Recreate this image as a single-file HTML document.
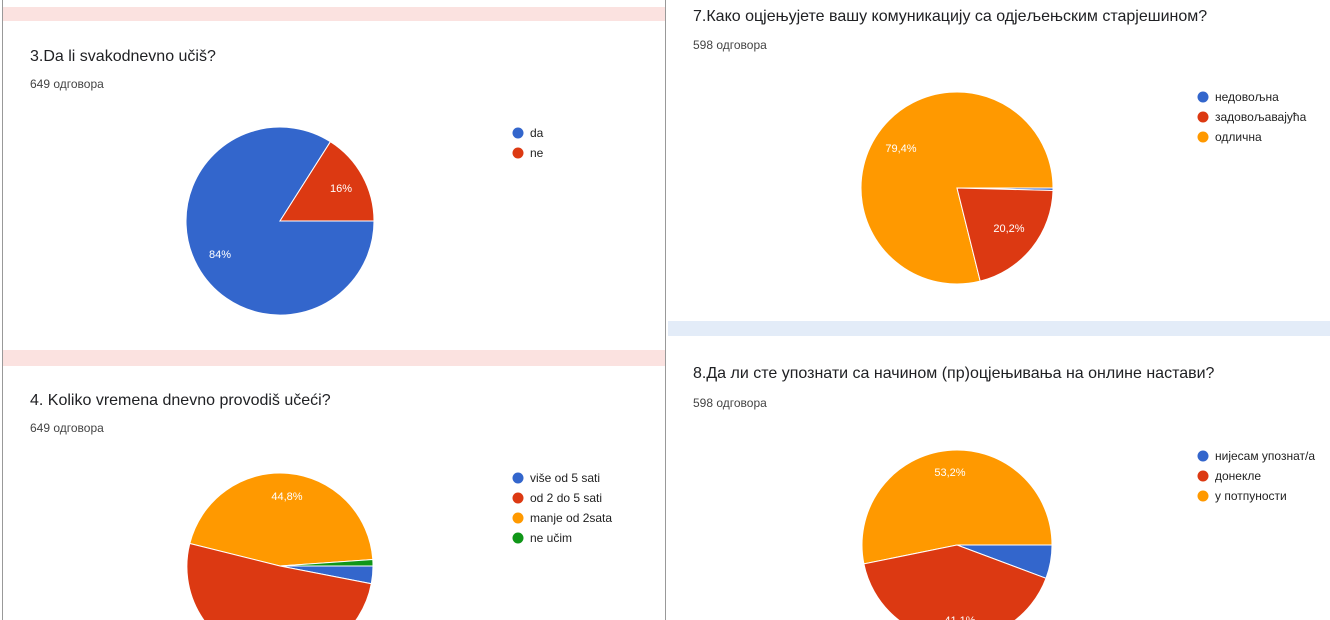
<!DOCTYPE html>
<html><head><meta charset="utf-8"><style>
body{margin:0;width:1330px;height:620px;overflow:hidden;background:#fff;}
svg{display:block;font-family:"Liberation Sans","DejaVu Sans",sans-serif;}
</style></head><body>
<svg width="1330" height="620" viewBox="0 0 1330 620">
<rect x="0" y="0" width="1330" height="620" fill="#fff"/>
<!-- left panel -->
<rect x="2" y="7" width="663" height="14" fill="#fbe2e0"/>
<rect x="2" y="350" width="663" height="16" fill="#fbe2e0"/>
<line x1="2.5" y1="0" x2="2.5" y2="620" stroke="#999" stroke-width="1"/>
<line x1="665.5" y1="0" x2="665.5" y2="620" stroke="#999" stroke-width="1"/>
<!-- right panel band -->
<rect x="668" y="321" width="662" height="15" fill="#e3ecf8"/>
<rect x="668" y="0" width="662" height="321" fill="#fff"/>
<rect x="668" y="336" width="662" height="284" rx="6" fill="#fff"/>

<g fill="#202124" font-size="16">
<text x="30" y="61">3.Da li svakodnevno učiš?</text>
<text x="30" y="405">4. Koliko vremena dnevno provodiš učeći?</text>
<text x="693" y="21">7.Како оцјењујете вашу комуникацију са одјељењским старјешином?</text>
<text x="693" y="378">8.Да ли сте упознати са начином (пр)оцјењивања на онлине настави?</text>
</g>
<g fill="#444" font-size="12">
<text x="30" y="88">649 одговора</text>
<text x="30" y="432">649 одговора</text>
<text x="693" y="49">598 одговора</text>
<text x="693" y="407">598 одговора</text>
</g>

<g stroke="#fff" stroke-width="1">
<!-- chart1 -->
<path d="M280,221 L374,221 A94,94 0 1 1 330.4,141.7 Z" fill="#3366cc"/>
<path d="M280,221 L330.4,141.7 A94,94 0 0 1 374,221 Z" fill="#dc3912"/>
<!-- chart2 -->
<path d="M280,566 L189.8,543.5 A93,93 0 0 1 372.8,559.5 Z" fill="#ff9900"/>
<path d="M280,566 L372.8,559.5 A93,93 0 0 1 373,566 Z" fill="#109618"/>
<path d="M280,566 L373,566 A93,93 0 0 1 371.3,583.7 Z" fill="#3366cc"/>
<path d="M280,566 L371.3,583.7 A93,93 0 1 1 189.8,543.5 Z" fill="#dc3912"/>
<!-- chart3 -->
<path d="M957,188 L980.2,281.1 A96,96 0 1 1 1053,188 Z" fill="#ff9900"/>
<path d="M957,188 L1053,188 A96,96 0 0 1 1053,190.5 Z" fill="#3366cc"/>
<path d="M957,188 L1053,190.5 A96,96 0 0 1 980.2,281.1 Z" fill="#dc3912"/>
<!-- chart4 -->
<path d="M957,545 L863.9,563.9 A95,95 0 1 1 1052,545 Z" fill="#ff9900"/>
<path d="M957,545 L1052,545 A95,95 0 0 1 1046,578.3 Z" fill="#3366cc"/>
<path d="M957,545 L1046,578.3 A95,95 0 0 1 863.9,563.9 Z" fill="#dc3912"/>
</g>

<g fill="#fff" font-size="11" text-anchor="middle">
<text x="341" y="192">16%</text>
<text x="220" y="258">84%</text>
<text x="287" y="500">44,8%</text>
<text x="901" y="152">79,4%</text>
<text x="1009" y="232">20,2%</text>
<text x="950" y="476">53,2%</text>
<text x="960" y="624">41,1%</text>
</g>

<g font-size="12" fill="#222">
<circle cx="518" cy="133" r="5.5" fill="#3366cc"/><text x="530" y="137">da</text>
<circle cx="518" cy="153" r="5.5" fill="#dc3912"/><text x="530" y="157">ne</text>

<circle cx="518" cy="478" r="5.5" fill="#3366cc"/><text x="530" y="482">više od 5 sati</text>
<circle cx="518" cy="498" r="5.5" fill="#dc3912"/><text x="530" y="502">od 2 do 5 sati</text>
<circle cx="518" cy="518" r="5.5" fill="#ff9900"/><text x="530" y="522">manje od 2sata</text>
<circle cx="518" cy="538" r="5.5" fill="#109618"/><text x="530" y="542">ne učim</text>

<circle cx="1203" cy="97" r="5.5" fill="#3366cc"/><text x="1215" y="101">недовољна</text>
<circle cx="1203" cy="117" r="5.5" fill="#dc3912"/><text x="1215" y="121">задовољавајућа</text>
<circle cx="1203" cy="137" r="5.5" fill="#ff9900"/><text x="1215" y="141">одлична</text>

<circle cx="1203" cy="456" r="5.5" fill="#3366cc"/><text x="1215" y="460">нијесам упознат/а</text>
<circle cx="1203" cy="476" r="5.5" fill="#dc3912"/><text x="1215" y="480">донекле</text>
<circle cx="1203" cy="496" r="5.5" fill="#ff9900"/><text x="1215" y="500">у потпуности</text>
</g>
</svg>
</body></html>
